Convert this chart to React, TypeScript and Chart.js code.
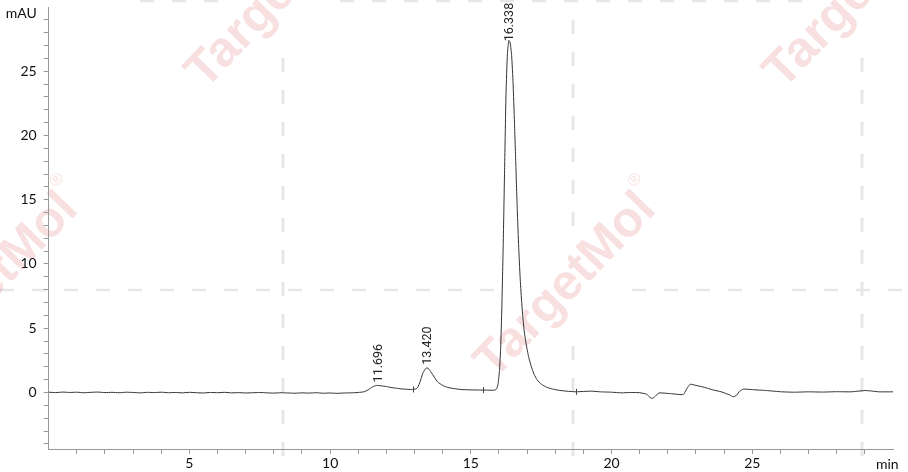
import React, { useEffect, useRef } from "react";
import { Chart, registerables } from "chart.js";

Chart.register(...registerables);

// ---- data ----
const retentionTimes = [
  0, 0.25, 0.5, 0.75, 1.0, 1.25, 1.5, 1.75,
  2.0, 2.25, 2.5, 2.75, 3.0, 3.25, 3.5, 3.75,
  4.0, 4.25, 4.5, 4.75, 5.0, 5.25, 5.5, 5.75,
  6.0, 6.25, 6.5, 6.75, 7.0, 7.25, 7.5, 7.75,
  8.0, 8.25, 8.5, 8.75, 9.0, 9.25, 9.5, 9.75,
  10.0, 10.25, 10.5, 10.75, 11.0, 11.2, 11.35, 11.45,
  11.56, 11.68, 11.8, 12.0, 12.16, 12.35, 12.52, 12.7,
  12.9, 13.05, 13.11, 13.2, 13.29, 13.37, 13.44, 13.51,
  13.58, 13.7, 13.82, 14.0, 14.18, 14.4, 14.65, 15.0,
  15.3, 15.6, 15.85, 15.92, 15.97, 16.02, 16.06, 16.1,
  16.15, 16.2, 16.25, 16.3, 16.35, 16.4, 16.45, 16.5,
  16.55, 16.6, 16.65, 16.7, 16.75, 16.8, 16.85, 16.9,
  16.97, 17.05, 17.15, 17.25, 17.35, 17.5, 17.7, 17.9,
  18.1, 18.4, 18.75, 19.0, 19.3, 19.6, 20.0, 20.35,
  20.7, 21.0, 21.24, 21.35, 21.45, 21.55, 21.65, 21.72,
  22.1, 22.55, 22.65, 22.75, 22.81, 23.0, 23.3, 23.6,
  23.9, 24.2, 24.33, 24.45, 24.55, 24.69, 25.0, 25.5,
  26.05, 26.5, 27.0, 27.5, 28.0, 28.5, 29.0, 29.2,
  29.5, 30.0,
];

const absorbance = [
  0.02, -0.01, 0.03, 0.0, 0.02, -0.02, 0.01, 0.03,
  -0.01, 0.01, -0.02, 0.02, 0.0, -0.03, 0.01, -0.01,
  0.02, -0.02, 0.0, -0.03, 0.01, -0.02, -0.04, 0.0,
  -0.02, 0.01, -0.03, -0.01, -0.04, -0.02, 0.0, -0.03,
  -0.05, -0.02, -0.04, -0.06, -0.03, -0.05, -0.02, -0.06,
  -0.04, -0.07, -0.04, -0.03, 0.0, 0.05, 0.2, 0.36,
  0.49, 0.55, 0.52, 0.46, 0.39, 0.33, 0.28, 0.25,
  0.23, 0.28, 0.39, 0.85, 1.48, 1.8, 1.92, 1.82,
  1.6, 1.2, 0.82, 0.55, 0.39, 0.3, 0.23, 0.2,
  0.19, 0.18, 0.18, 0.3, 0.7, 1.8, 3.5, 6.5,
  11.5, 17.5, 23.3, 26.4, 27.4, 27.2, 26.2, 24.1,
  21.0, 17.6, 14.2, 11.3, 9.0, 7.2, 5.8, 4.7,
  3.7, 2.8, 2.0, 1.4, 1.0, 0.65, 0.4, 0.27,
  0.18, 0.1, 0.05, 0.08, 0.1, 0.05, 0.02, -0.03,
  0.0, -0.02, -0.13, -0.35, -0.47, -0.3, -0.08, -0.03,
  -0.09, -0.16, 0.2, 0.55, 0.64, 0.55, 0.4, 0.2,
  0.05, -0.2, -0.34, -0.2, 0.1, 0.26, 0.22, 0.15,
  0.05, 0.02, 0.05, 0.03, 0.06, 0.05, 0.15, 0.12,
  0.05, 0.05,
];

const xTickValues = [1, 2, 3, 4, 5, 6, 7, 8, 9, 10, 11, 12, 13, 14, 15, 16, 17, 18, 19, 20, 21, 22, 23, 24, 25, 26, 27, 28, 29];
const xTickLabels = [5, 10, 15, 20, 25];
const yTickValues = [-4, -3, -2, -1, 0, 1, 2, 3, 4, 5, 6, 7, 8, 9, 10, 11, 12, 13, 14, 15, 16, 17, 18, 19, 20, 21, 22, 23, 24, 25, 26, 27, 28, 29];
const yTickLabels = [0, 5, 10, 15, 20, 25];

const peakTimes = [11.696, 13.42, 16.338];
const peakHeights = [0.55, 1.92, 27.1];
const peakLabels = ["11.696", "13.420", "16.338"];

const markerTimes = [12.93, 15.42, 18.75];
const markerValues = [0.23, 0.18, 0.05];

const xUnit = "min";
const yUnit = "mAU";
const watermarkText = "TargetMol";

const TICK_FONT = "Lato";

const watermarkPlugin = {
  id: "watermark",
  beforeDraw(chart: any) {
    const ctx = chart.ctx as CanvasRenderingContext2D;
    const W = chart.width;
    const H = chart.height;
    ctx.save();
    ctx.fillStyle = "#ffffff";
    ctx.fillRect(0, 0, W, H);

    // dashed watermark frame lines
    ctx.strokeStyle = "#e7e7e7";
    ctx.lineWidth = 3;
    ctx.setLineDash([14, 18]);
    const vLines: [number, number, number][] = [
      [283, 58, H],
      [573, 20, 236],
      [573, 346, H],
      [862, 58, H],
    ];
    vLines.forEach(([x, y0, y1]) => {
      ctx.beginPath();
      ctx.moveTo(x, y0);
      ctx.lineTo(x, y1);
      ctx.stroke();
    });
    ctx.lineWidth = 2.5;
    const hLines: [number, number, number][] = [
      [290, 0, 512],
      [290, 632, W],
      [1, 140, 222],
      [1, 340, 810],
    ];
    hLines.forEach(([y, x0, x1]) => {
      ctx.beginPath();
      ctx.moveTo(x0, y);
      ctx.lineTo(x1, y);
      ctx.stroke();
    });
    ctx.setLineDash([]);

    // TargetMol text watermarks
    const centers: [number, number][] = [
      [277, -4],
      [855, -4],
      [566, 286],
      [-12, 286],
    ];
    ctx.fillStyle = "rgba(225,115,115,0.22)";
    centers.forEach(([cx, cy]) => {
      ctx.save();
      ctx.translate(cx, cy);
      ctx.rotate((-46 * Math.PI) / 180);
      ctx.font = "bold 50px 'Liberation Sans', Arial, sans-serif";
      ctx.textAlign = "center";
      ctx.textBaseline = "middle";
      ctx.fillText(watermarkText, 0, 0);
      ctx.font = "17px 'Liberation Sans', Arial, sans-serif";
      ctx.fillText("®", 124, -24);
      ctx.restore();
    });
    ctx.restore();
  },
};

const annotationPlugin = {
  id: "annotations",
  afterDraw(chart: any) {
    const ctx = chart.ctx as CanvasRenderingContext2D;
    const xs = chart.scales.x;
    const ys = chart.scales.y;
    ctx.save();
    // peak labels
    ctx.fillStyle = "#222";
    ctx.font = `12.5px Roboto, sans-serif`;
    ctx.textAlign = "left";
    ctx.textBaseline = "middle";
    peakTimes.forEach((t, i) => {
      const px = xs.getPixelForValue(t);
      const py = ys.getPixelForValue(peakHeights[i]);
      ctx.save();
      ctx.translate(px + 1, py - 3);
      ctx.rotate(-Math.PI / 2);
      ctx.fillText(peakLabels[i], 0, 0);
      ctx.restore();
    });
    // integration markers
    ctx.strokeStyle = "#444";
    ctx.lineWidth = 1;
    markerTimes.forEach((t, i) => {
      const px = Math.round(xs.getPixelForValue(t)) + 0.5;
      const py = ys.getPixelForValue(markerValues[i]);
      ctx.beginPath();
      ctx.moveTo(px, py - 3);
      ctx.lineTo(px, py + 3);
      ctx.stroke();
    });
    // axis units
    ctx.fillStyle = "#111";
    ctx.font = `14px ${TICK_FONT}, sans-serif`;
    ctx.textAlign = "right";
    ctx.textBaseline = "middle";
    ctx.fillText(yUnit, ys.right - 12, 13);
    ctx.textAlign = "left";
    ctx.fillText(xUnit, xs.right - 17, xs.top + 15);
    ctx.restore();
  },
};

export default function App() {
  const canvasRef = useRef<HTMLCanvasElement | null>(null);

  useEffect(() => {
    if (!canvasRef.current) return;
    const points = retentionTimes.map((t, i) => ({ x: t, y: absorbance[i] }));
    const chart = new Chart(canvasRef.current, {
      type: "line",
      data: {
        datasets: [
          {
            data: points,
            borderColor: "#333333",
            borderWidth: 1,
            pointRadius: 0,
            tension: 0.15,
            fill: false,
          },
        ],
      },
      options: {
        animation: false,
        responsive: false,
        devicePixelRatio: 1,
        layout: { padding: { left: 0, top: 0, right: 15, bottom: 0 } },
        plugins: {
          legend: { display: false },
          tooltip: { enabled: false },
        },
        scales: {
          x: {
            type: "linear",
            min: 0,
            max: 30,
            afterBuildTicks: (scale: any) => {
              scale.ticks = xTickValues.map((v) => ({ value: v }));
            },
            afterFit: (scale: any) => {
              scale.height = 23;
            },
            ticks: {
              autoSkip: false,
              maxRotation: 0,
              minRotation: 0,
              padding: 2,
              color: "#111",
              font: { family: TICK_FONT, size: 14, lineHeight: 1 },
              callback: (v: any) => (xTickLabels.includes(Number(v)) ? String(v) : ""),
            },
            grid: {
              drawOnChartArea: false,
              drawTicks: true,
              tickLength: 5,
              color: "#999",
            },
            border: { color: "#999", width: 1 },
          },
          y: {
            type: "linear",
            min: -4.4,
            max: 30,
            afterBuildTicks: (scale: any) => {
              scale.ticks = yTickValues.map((v) => ({ value: v }));
            },
            afterFit: (scale: any) => {
              scale.width = 48.7;
            },
            ticks: {
              autoSkip: false,
              padding: 7,
              color: "#111",
              font: { family: TICK_FONT, size: 14, lineHeight: 0.001 },
              callback: (v: any) => (yTickLabels.includes(Number(v)) ? String(v) : ""),
            },
            grid: {
              drawOnChartArea: false,
              drawTicks: true,
              tickLength: 5,
              color: "#999",
            },
            border: { color: "#999", width: 1 },
          },
        },
      },
      plugins: [watermarkPlugin, annotationPlugin],
    } as any);
    return () => chart.destroy();
  }, []);

  return (
    <div style={{ position: "absolute", left: 0, top: 0, width: 908, height: 472 }}>
      <canvas ref={canvasRef} width={908} height={472} style={{ width: 908, height: 472 }} />
    </div>
  );
}
